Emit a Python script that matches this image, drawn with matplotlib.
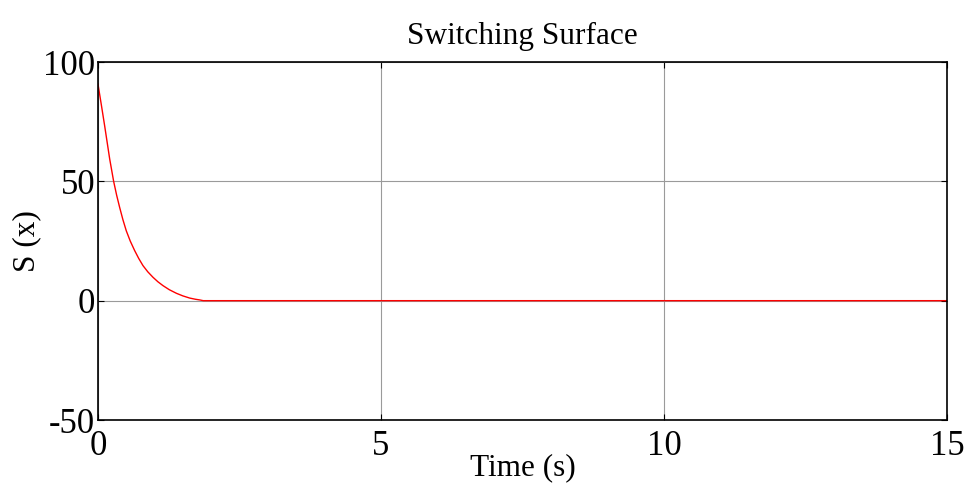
import numpy as np
import matplotlib.pyplot as plt

# sliding surface value read along the trajectory
time = [0.0, 0.06, 0.118, 0.207, 0.277, 0.33, 0.383, 0.44, 0.50, 0.57, 0.648, 0.72, 0.795,
        0.88, 0.972, 1.06, 1.149, 1.26, 1.385, 1.50, 1.62, 1.72, 1.80, 1.86, 15.0]
s_val = [90.8, 82.0, 73.3, 59.4, 50.0, 44.2, 39.1, 34.0, 29.3, 25.0, 21.0, 17.7, 14.7,
         12.1, 9.8, 7.9, 6.3, 4.6, 3.1, 2.0, 1.1, 0.6, 0.3, 0.0, 0.0]

xticks = [0, 5, 10, 15]
yticks = [-50, 0, 50, 100]

plt.rcParams['font.family'] = ['Liberation Serif', 'DejaVu Serif']
plt.rcParams['axes.unicode_minus'] = False

fig = plt.figure(figsize=(9.68, 4.91), dpi=100)
ax = fig.add_axes([0.1012, 0.1446, 0.8771, 0.7291])

ax.plot(time, s_val, color='red', linewidth=1.0)

ax.set_xlim(0, 15)
ax.set_ylim(-50, 100)
ax.set_xticks(xticks)
ax.set_yticks(yticks)
ax.grid(True, color='#9a9a9a', linewidth=0.8)
ax.set_axisbelow(True)
ax.tick_params(direction='in', length=4, width=0.8, labelsize=25, top=True, right=True)
ax.tick_params(axis='x', pad=7)
ax.tick_params(axis='y', pad=2)
for sp in ax.spines.values():
    sp.set_linewidth(1.2)

ax.set_title('Switching Surface', fontsize=22.5, pad=13)
ax.set_xlabel('Time (s)', fontsize=22.5, labelpad=-7)
ax.set_ylabel('S (x)', fontsize=22.5, labelpad=1)

fig.savefig('out.png', dpi=100)
